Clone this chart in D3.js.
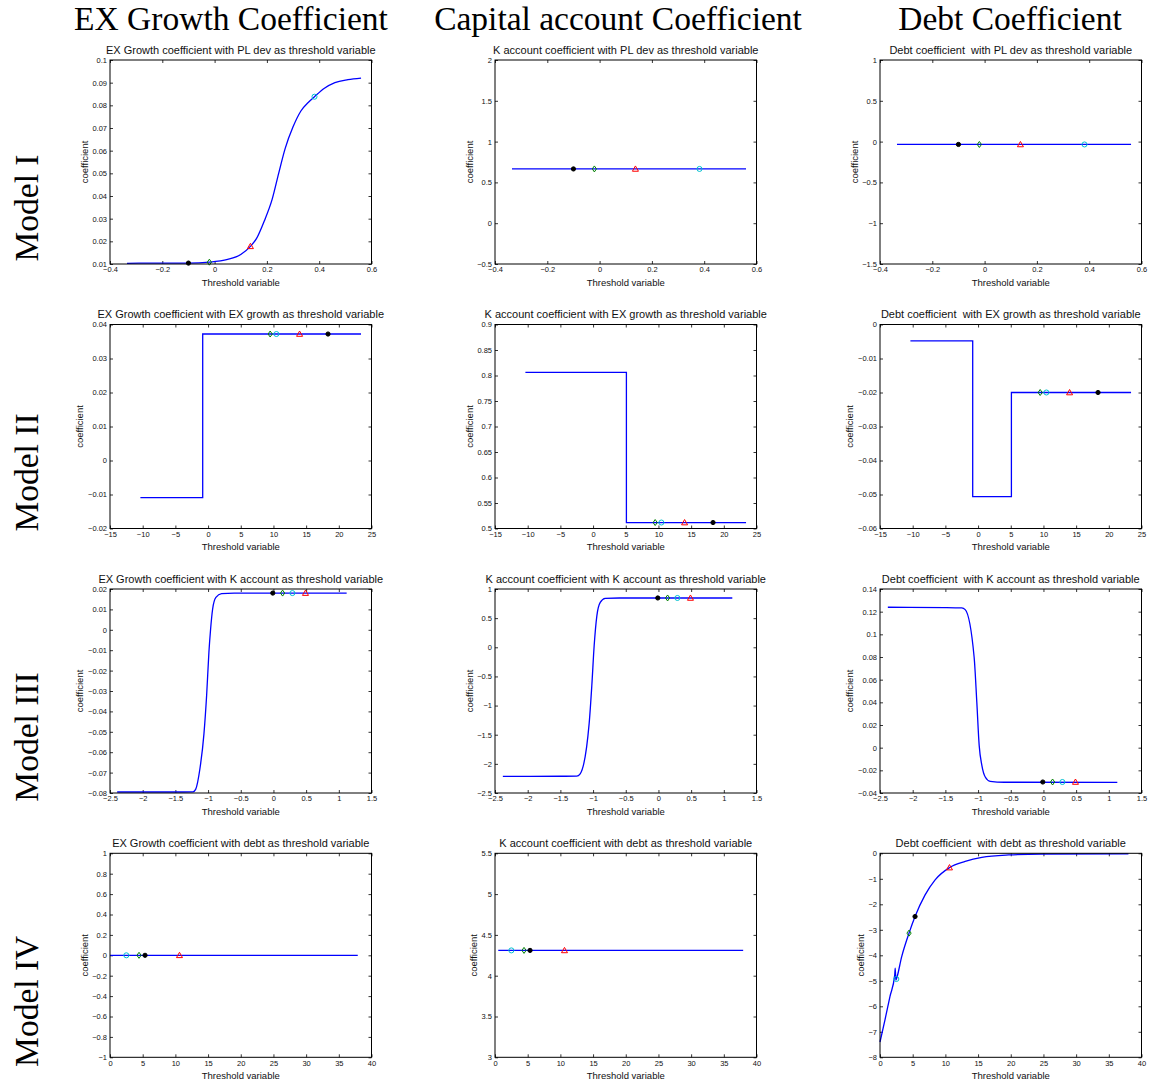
<!DOCTYPE html>
<html>
<head>
<meta charset="utf-8">
<script src="https://cdn.jsdelivr.net/npm/d3@7"></script>
<style>
  body { margin: 0; background: #fff; }
  svg text { font-family: "Liberation Sans", Arial, Helvetica, sans-serif; fill: #111; }
  svg text.hdr { font-family: "Liberation Serif", "Times New Roman", serif; fill: #000; }
</style>
</head>
<body>
<svg id="fig"></svg>
<script>
(function() {
  // ---- labels ----
  var colHeaders = ["EX Growth Coefficient", "Capital account Coefficient", "Debt Coefficient"];
  var rowHeaders = ["Model I", "Model II", "Model III", "Model IV"];
  var coefNames = ["EX Growth coefficient", "K account coefficient", "Debt coefficient "];
  var thresholdNames = ["PL dev", "EX growth", "K account", "debt"];

  // ---- x ticks per row (threshold variable) ----
  var xTicksPL = [-0.4, -0.2, 0, 0.2, 0.4, 0.6];
  var xTicksEX = [-15, -10, -5, 0, 5, 10, 15, 20, 25];
  var xTicksK = [-2.5, -2, -1.5, -1, -0.5, 0, 0.5, 1, 1.5];
  var xTicksDebt = [0, 5, 10, 15, 20, 25, 30, 35, 40];

  // ---- y ticks per panel ----
  var yTicks11 = [0.01, 0.02, 0.03, 0.04, 0.05, 0.06, 0.07, 0.08, 0.09, 0.1];
  var yTicks12 = [-0.5, 0, 0.5, 1, 1.5, 2];
  var yTicks13 = [-1.5, -1, -0.5, 0, 0.5, 1];
  var yTicks21 = [-0.02, -0.01, 0, 0.01, 0.02, 0.03, 0.04];
  var yTicks22 = [0.5, 0.55, 0.6, 0.65, 0.7, 0.75, 0.8, 0.85, 0.9];
  var yTicks23 = [-0.06, -0.05, -0.04, -0.03, -0.02, -0.01, 0];
  var yTicks31 = [-0.08, -0.07, -0.06, -0.05, -0.04, -0.03, -0.02, -0.01, 0, 0.01, 0.02];
  var yTicks32 = [-2.5, -2, -1.5, -1, -0.5, 0, 0.5, 1];
  var yTicks33 = [-0.04, -0.02, 0, 0.02, 0.04, 0.06, 0.08, 0.1, 0.12, 0.14];
  var yTicks41 = [-1, -0.8, -0.6, -0.4, -0.2, 0, 0.2, 0.4, 0.6, 0.8, 1];
  var yTicks42 = [3, 3.5, 4, 4.5, 5, 5.5];
  var yTicks43 = [-8, -7, -6, -5, -4, -3, -2, -1, 0];

  // ---- coefficient curves [threshold, coefficient] ----
  var curve11 = [[-0.335, 0.0103], [-0.2, 0.0104], [-0.1, 0.0104], [-0.02, 0.0108], [0.05, 0.0120],
                 [0.1, 0.0142], [0.137, 0.0178], [0.16, 0.0212], [0.19, 0.0290], [0.22, 0.0385],
                 [0.245, 0.0500], [0.27, 0.0610], [0.3, 0.0705], [0.33, 0.0775], [0.36, 0.0815],
                 [0.382, 0.0838], [0.42, 0.0875], [0.46, 0.0900], [0.51, 0.0913], [0.56, 0.0920]];
  var curve12 = [[-0.335, 0.665], [0.56, 0.665]];
  var curve13 = [[-0.335, -0.035], [0.56, -0.035]];
  var curve21 = [[-10.35, -0.0109], [-0.82, -0.0109], [-0.82, 0.0372], [23.4, 0.0372]];
  var curve22 = [[-10.35, 0.806], [5.1, 0.806], [5.1, 0.5117], [23.4, 0.5117]];
  var curve23 = [[-10.35, -0.0048], [-0.82, -0.0048], [-0.82, -0.0506], [5.1, -0.0506], [5.1, -0.02], [23.4, -0.02]];
  var curve31 = [[-2.39, -0.0795], [-1.5, -0.0795], [-1.23, -0.0794], [-1.19, -0.0782], [-1.124, -0.068],
                 [-1.063, -0.051], [-1.022, -0.0322], [-0.987, -0.011], [-0.961, 0.0004], [-0.93, 0.0102],
                 [-0.88, 0.0159], [-0.793, 0.0177], [-0.6, 0.018], [1.12, 0.018]];
  var curve32 = [[-2.38, -2.215], [-1.5, -2.213], [-1.25, -2.21], [-1.197, -2.17], [-1.06, -1.31],
                 [-1.019, -0.656], [-0.983, 0.03], [-0.942, 0.54], [-0.89, 0.77], [-0.814, 0.84],
                 [-0.6, 0.846], [1.13, 0.846]];
  var curve33 = [[-2.38, 0.1239], [-1.5, 0.1236], [-1.25, 0.1233], [-1.197, 0.1218], [-1.06, 0.0798],
                 [-1.019, 0.040], [-0.983, 0.002], [-0.942, -0.0156], [-0.89, -0.0259], [-0.814, -0.0297],
                 [-0.6, -0.0305], [1.13, -0.0306]];
  var curve41 = [[0, 0], [37.9, 0]];
  var curve42 = [[0.5, 4.31], [37.96, 4.31]];
  var curve43 = [[0, -7.4], [0.77, -6.52], [1.53, -5.61], [2.25, -4.78], [2.33, -4.5], [2.42, -4.97],
                 [2.5, -4.93], [3.32, -4.05], [4.44, -3.13], [5.36, -2.48], [6.9, -1.63], [8.43, -1.04],
                 [10.63, -0.56], [13.03, -0.32], [15.58, -0.16], [19.67, -0.065], [24.8, -0.03], [38, -0.02]];

  // ---- marker thresholds per row: black, green, red, cyan ----
  var markX1 = [-0.1, -0.02, 0.137, 0.382];
  var markX2 = [18.35, 9.5, 14.0, 10.45];
  var markX3 = [-0.01, 0.14, 0.49, 0.29];
  var markX4 = [5.36, 4.44, 10.63, 2.5];

  // ---- marker coefficients per panel ----
  var markY11 = [0.0104, 0.0108, 0.0178, 0.0838];
  var markY12 = [0.665, 0.665, 0.665, 0.665];
  var markY13 = [-0.035, -0.035, -0.035, -0.035];
  var markY21 = [0.0372, 0.0372, 0.0372, 0.0372];
  var markY22 = [0.5117, 0.5117, 0.5117, 0.5117];
  var markY23 = [-0.02, -0.02, -0.02, -0.02];
  var markY31 = [0.018, 0.018, 0.018, 0.018];
  var markY32 = [0.846, 0.846, 0.846, 0.846];
  var markY33 = [-0.0303, -0.0303, -0.0303, -0.0303];
  var markY41 = [0, 0, 0, 0];
  var markY42 = [4.31, 4.31, 4.31, 4.31];
  var markY43 = [-2.48, -3.13, -0.56, -4.93];

  var xTicks = [xTicksPL, xTicksEX, xTicksK, xTicksDebt];
  var yTicks = [[yTicks11, yTicks12, yTicks13], [yTicks21, yTicks22, yTicks23],
                [yTicks31, yTicks32, yTicks33], [yTicks41, yTicks42, yTicks43]];
  var curves = [[curve11, curve12, curve13], [curve21, curve22, curve23],
                [curve31, curve32, curve33], [curve41, curve42, curve43]];
  var markX = [markX1, markX2, markX3, markX4];
  var markY = [[markY11, markY12, markY13], [markY21, markY22, markY23],
               [markY31, markY32, markY33], [markY41, markY42, markY43]];
  var smooth = [[true, false, false], [false, false, false], [true, true, true], [false, false, true]];

  // ---- layout ----
  var width = 1155, height = 1084;
  var colLeft = [110, 495, 880],
      rowTop = [60, 324.5, 589, 853.3],
      plotW = 261.5,
      plotH = 204;
  var headerX = [231, 618, 1010];

  var svg = d3.select("#fig")
    .attr("width", width)
    .attr("height", height);

  svg.selectAll("text.colhdr")
    .data(colHeaders)
    .enter().append("text")
      .attr("class", "hdr colhdr")
      .attr("x", function(d, i) { return headerX[i]; })
      .attr("y", 30)
      .attr("text-anchor", "middle")
      .style("font-size", "33.5px")
      .text(function(d) { return d; });

  svg.selectAll("text.rowhdr")
    .data(rowHeaders)
    .enter().append("text")
      .attr("class", "hdr rowhdr")
      .attr("text-anchor", "middle")
      .style("font-size", "33.5px")
      .attr("transform", function(d, i) {
        return "translate(38," + (rowTop[i] + plotH / 2 + 46) + ") rotate(-90)";
      })
      .text(function(d) { return d; });

  var fmt = d3.format("~g");

  // marker shapes
  var markerStyle = [
    { stroke: "#000", fill: "#000", path: d3.symbol().type(d3.symbolCircle).size(14)() },
    { stroke: "#008000", fill: "none", path: "M0,-3L2.1,0L0,3L-2.1,0Z" },
    { stroke: "#ff0000", fill: "none", path: "M0,-3L3,2.3L-3,2.3Z" },
    { stroke: "#00c0d0", fill: "none", path: d3.symbol().type(d3.symbolCircle).size(20)() }
  ];

  for (var r = 0; r < 4; r++) {
    for (var c = 0; c < 3; c++) {
      drawPanel(r, c);
    }
  }

  function drawPanel(r, c) {
    var xt = xTicks[r], yt = yTicks[r][c];
    var g = svg.append("g")
      .attr("transform", "translate(" + colLeft[c] + "," + rowTop[r] + ")");

    var x = d3.scaleLinear().domain(d3.extent(xt)).range([0, plotW]);
    var y = d3.scaleLinear().domain(d3.extent(yt)).range([plotH, 0]);

    g.append("g")
      .attr("transform", "translate(0," + plotH + ")")
      .call(d3.axisBottom(x).tickValues(xt).tickFormat(fmt).tickSizeInner(-3).tickSizeOuter(0).tickPadding(3));
    g.append("g")
      .call(d3.axisTop(x).tickValues(xt).tickFormat("").tickSizeInner(-3).tickSizeOuter(0));
    var leftAxis = g.append("g")
      .call(d3.axisLeft(y).tickValues(yt).tickFormat(fmt).tickSizeInner(-3).tickSizeOuter(0).tickPadding(3));
    g.append("g")
      .attr("transform", "translate(" + plotW + ",0)")
      .call(d3.axisRight(y).tickValues(yt).tickFormat("").tickSizeInner(-3).tickSizeOuter(0));

    g.selectAll(".domain").remove();
    g.selectAll(".tick line").attr("stroke", "#000").attr("stroke-width", 0.8);
    g.selectAll(".tick text")
      .attr("fill", "#111")
      .style("font-size", "7.5px")
      .style("font-family", "'Liberation Sans', Arial, sans-serif");

    var line = d3.line()
      .x(function(d) { return x(d[0]); })
      .y(function(d) { return y(d[1]); })
      .curve(smooth[r][c] ? d3.curveMonotoneX : d3.curveLinear);

    g.append("path")
      .datum(curves[r][c])
      .attr("d", line)
      .attr("fill", "none")
      .attr("stroke", "#0000ff")
      .attr("stroke-width", 1.3);

    g.selectAll(".marker")
      .data(markX[r])
      .enter().append("path")
        .attr("class", "marker")
        .attr("transform", function(d, i) {
          return "translate(" + x(d) + "," + y(markY[r][c][i]) + ")";
        })
        .attr("d", function(d, i) { return markerStyle[i].path; })
        .attr("fill", function(d, i) { return markerStyle[i].fill; })
        .attr("stroke", function(d, i) { return markerStyle[i].stroke; })
        .attr("stroke-width", 1);

    g.append("rect")
      .attr("width", plotW)
      .attr("height", plotH)
      .attr("fill", "none")
      .attr("stroke", "#000")
      .attr("stroke-width", 1);

    g.append("text")
      .attr("x", plotW / 2)
      .attr("y", -6.5)
      .attr("text-anchor", "middle")
      .style("font-size", "11px")
      .style("white-space", "pre")
      .text(coefNames[c] + " with " + thresholdNames[r] + " as threshold variable");

    g.append("text")
      .attr("x", plotW / 2)
      .attr("y", plotH + 21.5)
      .attr("text-anchor", "middle")
      .style("font-size", "9.5px")
      .text("Threshold variable");

    // ylabel sits just outside the widest tick label, like matlab
    var maxW = d3.max(leftAxis.selectAll("text").nodes(), function(n) {
      return n.getComputedTextLength();
    });
    var labelX = -(3 + maxW + 8) + 3.4;

    g.append("text")
      .attr("transform", "translate(" + labelX + "," + (plotH / 2) + ") rotate(-90)")
      .attr("text-anchor", "middle")
      .style("font-size", "9.5px")
      .text("coefficient");
  }
})();
</script>
</body>
</html>
